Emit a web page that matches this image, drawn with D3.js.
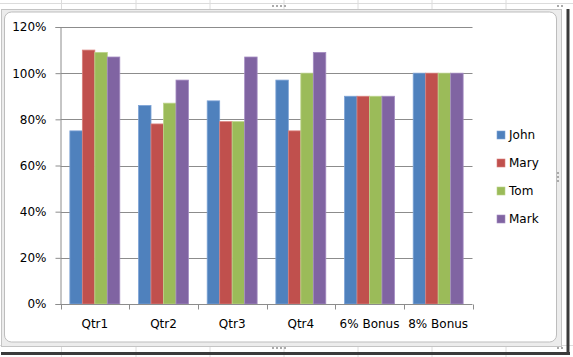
<!DOCTYPE html>
<html>
<head>
<meta charset="utf-8">
<script src="https://cdn.jsdelivr.net/npm/d3@7"></script>
<style>
html,body{margin:0;padding:0;background:#fff;}
svg{display:block;}
text{font-family:"DejaVu Sans",sans-serif;font-size:12px;fill:#000;}
</style>
</head>
<body>
<svg id="c" width="573" height="357"></svg>
<script>
const categories = ["Qtr1","Qtr2","Qtr3","Qtr4","6% Bonus","8% Bonus"];
const seriesNames = ["John","Mary","Tom","Mark"];
const john = [75, 86, 88, 97, 90, 100];
const mary = [110, 78, 79, 75, 90, 100];
const tom  = [109, 87, 79, 100, 90, 100];
const mark = [107, 97, 107, 109, 90, 100];
const yTicks = [0, 20, 40, 60, 80, 100, 120];
const colors = ["#4F81BD","#C0504D","#9BBB59","#8064A2"];
const edgeColors = ["#7DA3D6","#D9807D","#BCD48A","#A48CC2"];
const seriesValues = [john, mary, tom, mark];

const svg = d3.select("#c");

// spreadsheet cell grid behind
const bg = svg.append("g");
[61.5,136,210,284,358,432,506].forEach(xx=>bg.append("line").attr("x1",xx).attr("x2",xx).attr("y1",0).attr("y2",357).attr("stroke","#dcdcdc"));
[3.5,345.5].forEach(yy=>bg.append("line").attr("x1",0).attr("x2",573).attr("y1",yy).attr("y2",yy).attr("stroke","#dcdcdc"));

// chart frame
svg.append("rect").attr("x",1.5).attr("y",9.5).attr("width",560).attr("height",337).attr("fill","#ececec").attr("stroke","#c4c4c4");
svg.append("rect").attr("x",4.5).attr("y",12).attr("width",552).attr("height",330).attr("rx",7).attr("fill","#fff").attr("stroke","#bdbdbd");
// shadow
svg.append("rect").attr("x",566.5).attr("y",9).attr("width",3).attr("height",346).attr("fill","#3a3a3a");
svg.append("rect").attr("x",1).attr("y",352).attr("width",569).attr("height",3).attr("fill","#3a3a3a");
// handles
const handles = svg.append("g").attr("fill","#aaa");
[[272,5],[276,5],[280,5],[284,5],[272,347],[276,347],[280,347],[284,347],[557,5],[561,5],[557,347],[561,347],[557,172],[557,176],[557,180]].forEach(d=>handles.append("rect").attr("x",d[0]).attr("y",d[1]).attr("width",2).attr("height",2));

const plotLeft = 60.5, plotRight = 472.5, plotTop = 27, plotBottom = 304;
const x = d3.scaleBand().domain(categories).range([plotLeft, plotRight]).paddingInner(0).paddingOuter(0);
const xs = d3.scaleBand().domain(seriesNames).range([0, x.bandwidth()]).paddingInner(0).paddingOuter(0.75);
const y = d3.scaleLinear().domain([0,120]).range([plotBottom, plotTop]);

// gridlines
const grid = svg.append("g");
yTicks.filter(t=>t>0).forEach(t=>{
  grid.append("line").attr("x1",plotLeft).attr("x2",plotRight).attr("y1",Math.round(y(t))+0.5).attr("y2",Math.round(y(t))+0.5).attr("stroke","#8c8c8c").attr("stroke-width",1);
});

// bars
const bars = svg.append("g");
categories.forEach((c,ci)=>{
  seriesNames.forEach((s,si)=>{
    const v = seriesValues[si][ci];
    const bx = x(c) + xs(s);
    bars.append("rect")
      .attr("x", bx).attr("y", y(v))
      .attr("width", xs.bandwidth()).attr("height", y(0)-y(v))
      .attr("fill", colors[si])
      .attr("stroke", edgeColors[si]).attr("stroke-width",0.8);
  });
});

// y axis
const yAxis = d3.axisLeft(y).tickValues(yTicks).tickSize(5).tickPadding(9).tickFormat(d=>d+"%");
const ya = svg.append("g").attr("transform",`translate(${plotLeft},0)`).call(yAxis);
ya.select(".domain").attr("stroke","#8c8c8c");
ya.selectAll(".tick line").attr("stroke","#8c8c8c");
ya.selectAll("text").style("font-family","DejaVu Sans").style("font-size","12px").attr("fill","#000");

// x axis
const xAxis = d3.axisBottom(x).tickSize(0).tickPadding(15);
const xa = svg.append("g").attr("transform",`translate(0,${plotBottom+0.5})`).call(xAxis);
xa.select(".domain").attr("stroke","#8c8c8c").attr("d",`M${plotLeft},0H${plotRight}`);
xa.selectAll("text").style("font-family","DejaVu Sans").style("font-size","12px").attr("fill","#000");
const bounds = categories.map(c=>x(c)).concat([plotRight]);
bounds.forEach(b=>xa.append("line").attr("x1",Math.round(b)+0.5).attr("x2",Math.round(b)+0.5).attr("y1",0).attr("y2",5).attr("stroke","#8c8c8c"));

// legend
const lg = svg.append("g").attr("transform","translate(497,135)");
seriesNames.forEach((s,i)=>{
  const g = lg.append("g").attr("transform",`translate(0,${i*28})`);
  g.append("rect").attr("x",0).attr("y",-4).attr("width",8).attr("height",8).attr("fill",colors[i]).attr("stroke",edgeColors[i]).attr("stroke-width",0.6);
  g.append("text").attr("x",12).attr("y",0).attr("dy","0.36em").text(s);
});
</script>
</body>
</html>
